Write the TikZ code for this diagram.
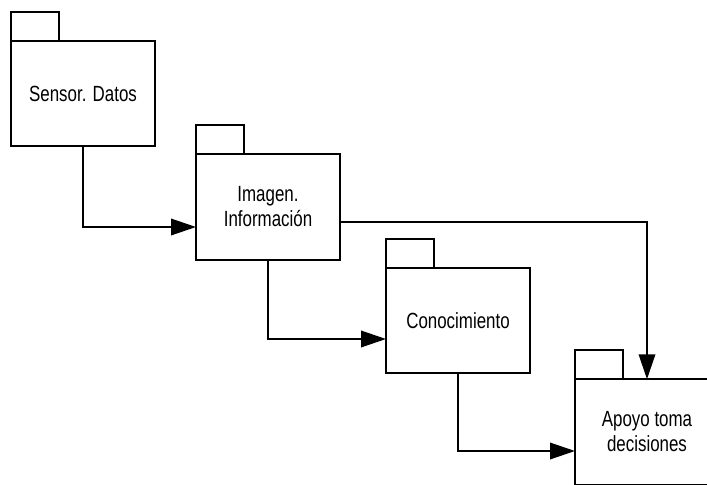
\documentclass[tikz,border=0pt]{standalone}
\usepackage{fontspec}
\setmainfont[FakeStretch=0.77]{Liberation Sans}
\usetikzlibrary{arrows.meta, positioning}

\begin{document}
\begin{tikzpicture}[
    pkg/.style={draw, line width=1.1pt, minimum width=2.88cm, minimum height=2.11cm, inner sep=0pt, outer sep=0pt, align=center, font=\fontsize{12.5}{14.2}\selectfont},
    pkgtab/.style={draw, line width=1.1pt, minimum width=0.96cm, minimum height=0.58cm, inner sep=0pt, outer sep=0pt, anchor=south west},
    flow/.style={-{Triangle[length=5mm, width=3.3mm]}, line width=1.1pt}
]
    \clip (0,0) rectangle (14.14,-9.70);

    \node[pkg] (sensor) at (1.66,-1.87) {Sensor. Datos};
    \node[pkgtab] (sensortab) at (sensor.north west) {};
    \node[pkg] (imagen) at (5.36,-4.14) {Imagen.\\Información};
    \node[pkgtab] (imagentab) at (imagen.north west) {};
    \node[pkg] (conoc) at (9.16,-6.41) {Conocimiento};
    \node[pkgtab] (conoctab) at (conoc.north west) {};
    \node[pkg] (apoyo) at (12.94,-8.64) {Apoyo toma\\decisiones};
    \node[pkgtab] (apoyotab) at (apoyo.north west) {};

    \draw[flow] (sensor.south) |- ([yshift=-0.40cm]imagen.west);
    \draw[flow] (imagen.south) |- ([yshift=-0.37cm]conoc.west);
    \draw[flow] (conoc.south) |- ([yshift=-0.38cm]apoyo.west);
    \draw[flow] ([yshift=-0.30cm]imagen.east) -| (apoyo.north);
\end{tikzpicture}
\end{document}
